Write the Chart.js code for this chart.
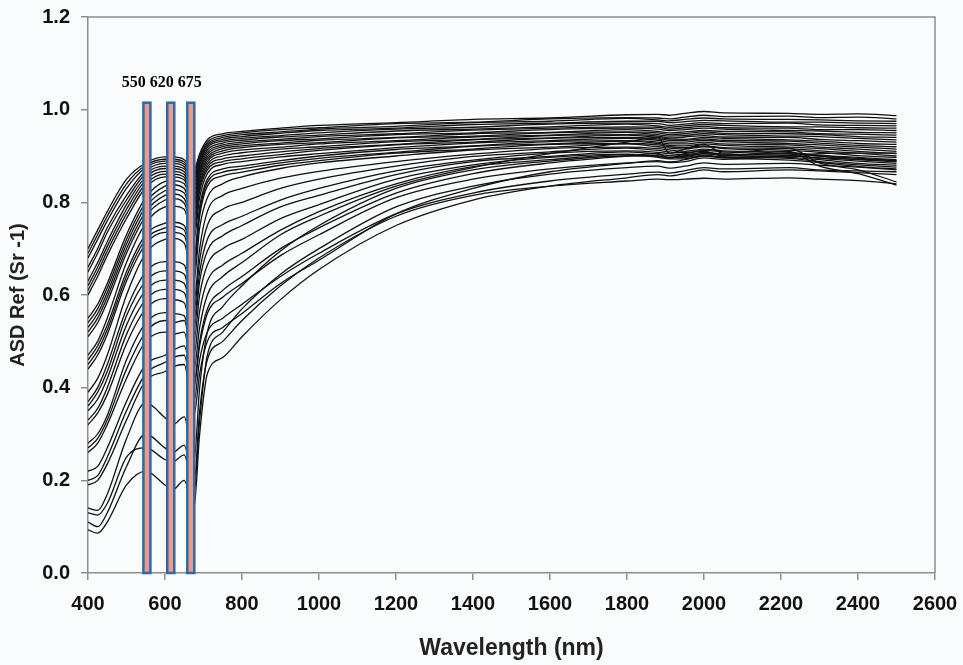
<!DOCTYPE html>
<html>
<head>
<meta charset="utf-8">
<title>ASD spectra</title>
<script src="https://cdn.jsdelivr.net/npm/chart.js@4/dist/chart.umd.min.js"></script>
<style>
  html, body { margin: 0; padding: 0; background: #fafbfd; }
  #wrap { width: 963px; height: 665px; }
</style>
</head>
<body>
<div id="wrap"><canvas id="sp" width="963" height="665"></canvas></div>
<script>
// 波长采样点 (nm)
const WL = [400, 425, 450, 500, 550, 600, 620, 650, 675, 690, 710, 750, 800, 900, 1000, 1200, 1400, 1600, 1800, 1880, 1910, 1950, 2000, 2050, 2220, 2300, 2400, 2500];

// 各样点反射率，按 WL 顺序读图
const s01 = [.70,.74,.78,.85,.885,.898,.898,.892,.87,.905,.935,.948,.953,.96,.966,.972,.979,.982,.989,.99,.988,.992,.996,.993,.992,.99,.991,.987];
const s02 = [.69,.73,.77,.84,.88,.893,.893,.887,.862,.90,.93,.944,.95,.957,.961,.970,.973,.980,.983,.982,.980,.984,.988,.985,.986,.983,.984,.98];
const s03 = [.68,.72,.76,.83,.875,.889,.889,.882,.855,.895,.926,.94,.946,.952,.958,.964,.972,.975,.981,.978,.976,.979,.982,.98,.979,.978,.976,.975];
const s04 = [.66,.70,.745,.815,.868,.884,.884,.877,.848,.89,.922,.936,.942,.949,.955,.960,.968,.971,.975,.975,.972,.974,.977,.976,.973,.973,.971,.97];
const s05 = [.65,.69,.735,.805,.862,.878,.878,.872,.84,.885,.918,.932,.938,.944,.950,.958,.962,.969,.971,.970,.966,.969,.972,.97,.971,.967,.966,.965];
const s06 = [.63,.67,.715,.795,.855,.873,.873,.866,.832,.88,.913,.928,.934,.941,.945,.954,.958,.963,.969,.965,.962,.965,.968,.966,.963,.963,.961,.96];
const s07 = [.62,.66,.705,.785,.848,.867,.867,.86,.822,.874,.908,.924,.93,.936,.942,.948,.956,.960,.963,.962,.958,.961,.964,.961,.960,.957,.957,.955];
const s08 = [.61,.65,.695,.775,.84,.861,.861,.854,.812,.868,.903,.92,.926,.933,.937,.946,.950,.957,.960,.958,.955,.957,.960,.958,.955,.954,.951,.95];
const s09 = [.60,.64,.685,.765,.832,.855,.855,.848,.80,.862,.898,.916,.922,.928,.934,.940,.948,.951,.957,.953,.950,.952,.955,.953,.952,.948,.947,.945];
const s10 = [.55,.58,.625,.73,.81,.845,.847,.84,.79,.855,.893,.911,.918,.925,.929,.939,.943,.950,.952,.950,.946,.948,.952,.949,.948,.946,.942,.94];
const s11 = [.54,.57,.615,.72,.80,.835,.838,.83,.778,.848,.888,.906,.913,.919,.926,.933,.941,.945,.951,.946,.943,.944,.948,.946,.943,.942,.938,.935];
const s12 = [.53,.56,.605,.71,.79,.825,.828,.82,.765,.84,.882,.90,.907,.915,.920,.931,.936,.944,.946,.943,.939,.941,.944,.941,.940,.936,.933,.93];
const s13 = [.52,.55,.595,.70,.78,.815,.818,.808,.75,.832,.876,.894,.90,.909,.916,.925,.935,.939,.945,.940,.937,.936,.940,.938,.935,.932,.927,.925];
const s14 = [.51,.54,.585,.69,.77,.805,.808,.798,.738,.824,.87,.888,.894,.903,.912,.924,.930,.938,.940,.937,.934,.934,.937,.934,.932,.928,.923,.92];
const s15 = [.47,.50,.55,.67,.755,.79,.792,.785,.72,.81,.862,.882,.888,.898,.905,.918,.928,.933,.938,.934,.930,.930,.934,.931,.927,.924,.919,.915];
const s16 = [.46,.49,.535,.65,.73,.755,.757,.75,.68,.79,.85,.872,.878,.89,.90,.914,.922,.931,.933,.930,.926,.926,.930,.926,.924,.919,.915,.91];
const s17 = [.45,.48,.525,.64,.72,.745,.748,.74,.665,.78,.843,.865,.872,.885,.895,.908,.921,.926,.932,.927,.923,.922,.926,.923,.919,.916,.910,.905];
const s18 = [.44,.47,.515,.63,.71,.735,.735,.728,.65,.77,.835,.857,.865,.88,.89,.906,.915,.925,.927,.924,.920,.918,.922,.918,.916,.911,.906,.90];
const s19 = [.39,.42,.47,.60,.69,.72,.722,.712,.63,.745,.81,.84,.855,.873,.885,.90,.913,.919,.926,.920,.917,.915,.920,.916,.912,.908,.901,.897];
const s20 = [.37,.40,.45,.57,.65,.672,.672,.665,.585,.70,.78,.815,.83,.852,.867,.888,.904,.916,.919,.916,.913,.910,.915,.911,.908,.902,.897,.892];
const s21 = [.36,.39,.435,.555,.63,.652,.652,.645,.565,.675,.75,.785,.80,.83,.85,.878,.899,.909,.917,.912,.909,.907,.912,.909,.904,.900,.892,.888];
const s22 = [.35,.375,.42,.535,.61,.632,.632,.625,.545,.65,.72,.752,.77,.805,.83,.868,.891,.906,.911,.908,.905,.903,.908,.904,.901,.895,.889,.884];
const s23 = [.33,.355,.40,.515,.59,.612,.612,.605,.525,.63,.695,.728,.75,.79,.815,.86,.888,.899,.909,.904,.901,.900,.905,.902,.897,.892,.884,.88];
const s24 = [.32,.345,.385,.495,.57,.592,.59,.583,.50,.60,.665,.70,.72,.765,.795,.85,.881,.897,.904,.900,.897,.897,.902,.898,.895,.888,.881,.876];
const s25 = [.28,.30,.34,.46,.54,.562,.56,.555,.47,.565,.63,.665,.69,.74,.78,.84,.877,.892,.903,.897,.894,.894,.90,.896,.891,.886,.877,.872];
const s26 = [.27,.29,.33,.44,.52,.545,.54,.545,.44,.53,.60,.64,.67,.73,.77,.835,.875,.905,.93,.94,.906,.915,.925,.906,.917,.885,.87,.844];
const s27 = [.26,.28,.32,.42,.50,.52,.515,.52,.41,.50,.57,.61,.64,.70,.745,.82,.862,.885,.90,.905,.895,.905,.91,.90,.91,.878,.862,.837];
const s28 = [.22,.23,.27,.37,.45,.47,.48,.49,.40,.49,.56,.595,.625,.685,.73,.81,.85,.872,.885,.888,.886,.888,.896,.893,.90,.905,.906,.906];
const s29 = [.20,.21,.25,.35,.43,.455,.465,.47,.37,.46,.52,.55,.58,.64,.69,.775,.82,.846,.861,.865,.863,.868,.875,.872,.875,.87,.868,.866];
const s30 = [.19,.20,.235,.33,.415,.435,.445,.45,.34,.43,.50,.53,.56,.625,.675,.775,.83,.866,.884,.89,.887,.892,.90,.897,.90,.896,.893,.89];
const s31 = [.14,.135,.17,.29,.367,.335,.32,.337,.24,.40,.52,.575,.62,.695,.75,.83,.87,.889,.90,.90,.897,.90,.905,.902,.905,.90,.895,.89];
const s32 = [.11,.10,.13,.23,.30,.27,.26,.276,.19,.35,.46,.50,.545,.62,.68,.77,.815,.835,.846,.85,.849,.85,.852,.85,.853,.85,.847,.84];
const s33 = [.093,.086,.11,.19,.22,.19,.18,.20,.14,.30,.43,.465,.51,.59,.655,.75,.805,.835,.853,.86,.857,.862,.87,.866,.87,.868,.864,.86];
const s34 = [.13,.125,.15,.25,.27,.245,.24,.255,.17,.33,.47,.52,.57,.645,.70,.79,.835,.861,.875,.878,.874,.878,.885,.882,.884,.88,.876,.87];

const SERIES = [s01, s02, s03, s04, s05, s06, s07, s08, s09, s10, s11, s12, s13, s14, s15, s16, s17,
  s18, s19, s20, s21, s22, s23, s24, s25, s26, s27, s28, s29, s30, s31, s32, s33, s34];

// 三个波段框
const BAND_CENTER = [553, 615, 667];
const BAND_LABEL = ['550', '620', '675'];
const BAND_TOP = 1.015;

const X_TICKS = [400, 600, 800, 1000, 1200, 1400, 1600, 1800, 2000, 2200, 2400, 2600];
const Y_TICKS = [0, 0.2, 0.4, 0.6, 0.8, 1.0, 1.2];

const SANS = 'Arial, "Liberation Sans", sans-serif';
const AXIS_GREY = '#8e8e8e';

// 背景 + 外框 + 波段框
Chart.register({
  id: 'bandsAndFrame',
  beforeDraw: (chart) => {
    const ctx = chart.ctx;
    ctx.save();
    ctx.fillStyle = '#fafbfd';
    ctx.fillRect(0, 0, chart.width, chart.height);
    ctx.restore();
  },
  afterDatasetsDraw: (chart) => {
    const ctx = chart.ctx, ca = chart.chartArea;
    const xs = chart.scales.x, ys = chart.scales.y;
    ctx.save();
    // 右侧、上侧框线
    ctx.strokeStyle = AXIS_GREY;
    ctx.lineWidth = 1.5;
    ctx.beginPath();
    ctx.moveTo(ca.left, ca.top);
    ctx.lineTo(ca.right, ca.top);
    ctx.lineTo(ca.right, ca.bottom);
    ctx.stroke();

    const top = ys.getPixelForValue(BAND_TOP);
    const bottom = ys.getPixelForValue(0);
    BAND_CENTER.forEach(c => {
      const x = xs.getPixelForValue(c);
      ctx.fillStyle = '#ec9a8c';
      ctx.strokeStyle = '#2d69a6';
      ctx.lineWidth = 2.5;
      ctx.fillRect(x - 3.5, top, 7, bottom - top);
      ctx.strokeRect(x - 3.5, top, 7, bottom - top);
    });

    // 波段标注
    ctx.fillStyle = '#000';
    ctx.font = 'bold 16px "Times New Roman", "Liberation Serif", serif';
    ctx.textAlign = 'center';
    ctx.textBaseline = 'middle';
    const mid = xs.getPixelForValue(BAND_CENTER[1]);
    ctx.fillText(BAND_LABEL.join(' '), mid - 9, top - 20);
    ctx.restore();
  }
});

const datasets = SERIES.map(s => ({
  data: WL.map((w, i) => ({ x: w, y: s[i] })),
  borderColor: '#111',
  borderWidth: 1.3,
  pointRadius: 0,
  fill: false,
  cubicInterpolationMode: 'monotone'
}));

new Chart(document.getElementById('sp').getContext('2d'), {
  type: 'line',
  data: { datasets },
  options: {
    responsive: false,
    animation: false,
    devicePixelRatio: 1,
    layout: { padding: { left: 0, right: 28, top: 17, bottom: 0 } },
    plugins: {
      legend: { display: false },
      tooltip: { enabled: false }
    },
    scales: {
      x: {
        type: 'linear',
        min: 400,
        max: 2600,
        afterBuildTicks: (s) => { s.ticks = X_TICKS.map(v => ({ value: v })); },
        afterFit: (s) => { s.height = 92; s.paddingLeft = 0; s.paddingRight = 0; },
        grid: { drawOnChartArea: false, drawTicks: true, tickLength: 7, color: AXIS_GREY, lineWidth: 1.5 },
        border: { display: true, color: AXIS_GREY, width: 1.5 },
        ticks: {
          padding: 12,
          maxRotation: 0,
          color: '#111',
          font: { family: SANS, size: 20, weight: 'bold' },
          callback: v => String(v)
        },
        title: {
          display: true,
          text: 'Wavelength (nm)',
          color: '#222',
          font: { family: SANS, size: 23, weight: 'bold' },
          padding: { top: 0, bottom: 3 }
        }
      },
      y: {
        min: 0,
        max: 1.2,
        afterBuildTicks: (s) => { s.ticks = Y_TICKS.map(v => ({ value: v })); },
        afterFit: (s) => { s.width = 88; s.paddingTop = 0; s.paddingBottom = 0; },
        grid: { drawOnChartArea: false, drawTicks: true, tickLength: 7, color: AXIS_GREY, lineWidth: 1.5 },
        border: { display: true, color: AXIS_GREY, width: 1.5 },
        ticks: {
          padding: 11,
          color: '#111',
          font: { family: SANS, size: 20, weight: 'bold' },
          callback: v => v.toFixed(1)
        },
        title: {
          display: true,
          text: 'ASD Ref (Sr -1)',
          color: '#222',
          font: { family: SANS, size: 20, weight: 'bold' },
          padding: { top: 6, bottom: 0 }
        }
      }
    }
  }
});
</script>
</body>
</html>
